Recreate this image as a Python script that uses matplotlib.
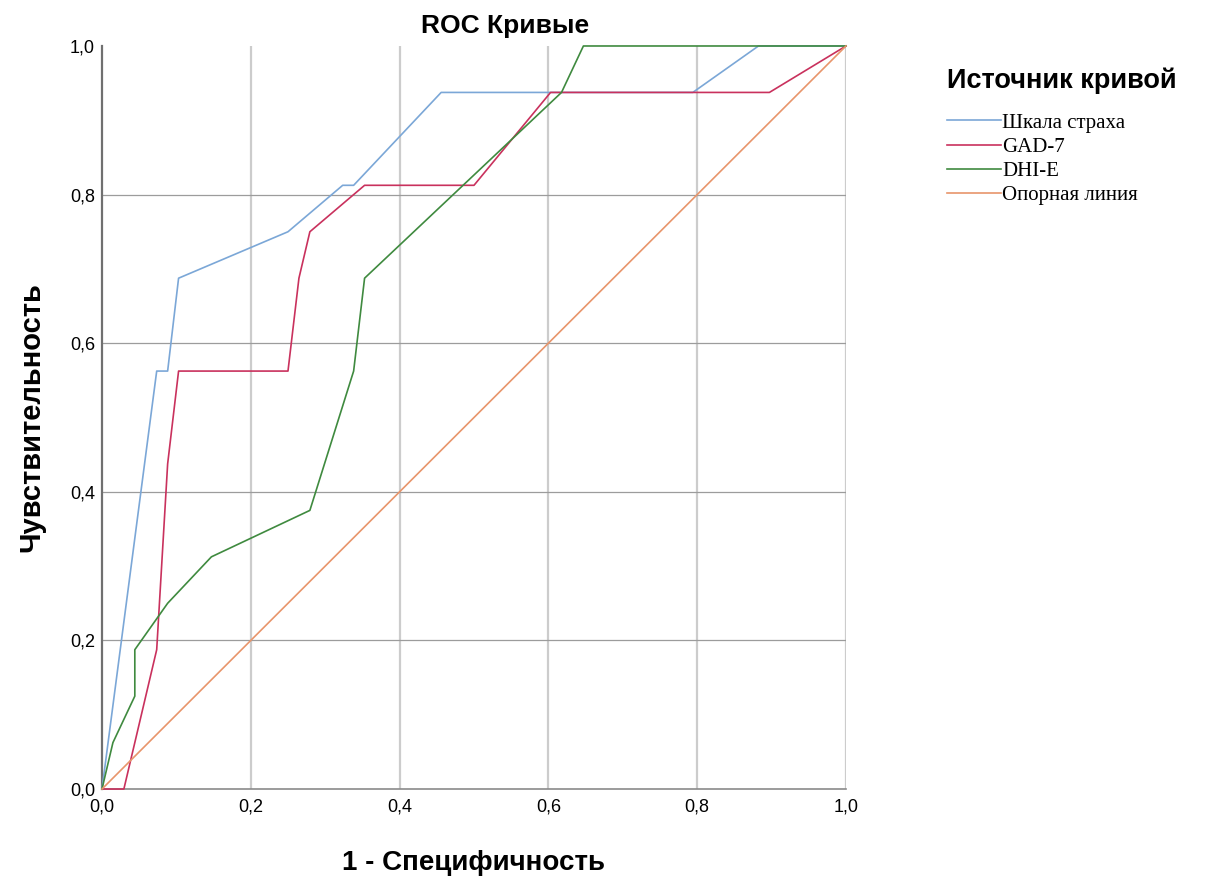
import numpy as np
import matplotlib
matplotlib.use('Agg')
import matplotlib.pyplot as plt

# ROC points: x = 1 - specificity (steps of 1/68), y = sensitivity (steps of 1/16)
fear_x = np.array([0, 5, 6, 7, 17, 22, 23, 31, 54, 60, 68]) / 68
fear_y = np.array([0, 9, 9, 11, 12, 13, 13, 15, 15, 16, 16]) / 16

gad_x = np.array([0, 2, 5, 6, 7, 17, 18, 19, 24, 34, 41, 61, 68]) / 68
gad_y = np.array([0, 0, 3, 7, 9, 9, 11, 12, 13, 13, 15, 15, 16]) / 16

dhi_x = np.array([0, 1, 3, 3, 6, 10, 19, 23, 24, 42, 44, 68]) / 68
dhi_y = np.array([0, 1, 2, 3, 4, 5, 6, 9, 11, 15, 16, 16]) / 16

ref_x = [0, 1]
ref_y = [0, 1]

labels = ['Шкала страха', 'GAD-7', 'DHI-E', 'Опорная линия']
colors = ['#7ba7d7', '#c9315d', '#3f8a3f', '#e8956b']
ticks = [0, 0.2, 0.4, 0.6, 0.8, 1.0]
tick_labels = ['0,0', '0,2', '0,4', '0,6', '0,8', '1,0']

fig = plt.figure(figsize=(12.07, 8.81), dpi=100)
ax = fig.add_axes([0.0845, 0.1044, 0.6164, 0.8434])

# grid: vertical lines light and thick, horizontal ones darker and thin
for t in ticks[1:]:
    ax.axvline(t, color='#cccccc', lw=1.6, zorder=0)
for t in ticks[1:-1]:
    ax.axhline(t, color='#9c9c9c', lw=0.9, zorder=0)

series = [(fear_x, fear_y), (gad_x, gad_y), (dhi_x, dhi_y), (ref_x, ref_y)]
for (xs, ys), lab, col in zip(series, labels, colors):
    ax.plot(xs, ys, color=col, lw=1.2, label=lab, clip_on=False, zorder=3)

ax.set_xlim(0, 1)
ax.set_ylim(0, 1)
ax.set_xticks(ticks)
ax.set_xticklabels(tick_labels, family='Liberation Sans', fontsize=13)
ax.set_yticks(ticks)
ax.set_yticklabels(tick_labels, family='Liberation Sans', fontsize=13)
ax.tick_params(axis='x', length=0, pad=7)
ax.tick_params(axis='y', length=0, pad=5)

for s in ['top', 'right']:
    ax.spines[s].set_visible(False)
ax.spines['left'].set_color('#707070')
ax.spines['left'].set_linewidth(1.6)
ax.spines['bottom'].set_color('#8a8a8a')
ax.spines['bottom'].set_linewidth(1.2)

ax.set_title('ROC Кривые', family='Liberation Sans', fontweight='bold', fontsize=19,
             x=0.542, pad=9)
ax.set_xlabel('1 - Специфичность', family='Liberation Sans', fontweight='bold', fontsize=20, labelpad=25)
ax.set_ylabel('Чувствительность', family='Liberation Sans', fontweight='bold', fontsize=21, labelpad=18)

leg = ax.legend(loc='upper left', bbox_to_anchor=(0.769, 0.945), bbox_transform=fig.transFigure,
                frameon=False, title='Источник кривой', handlelength=2.6, handletextpad=0.05,
                labelspacing=0.22, prop={'family': 'Liberation Serif', 'size': 15},
                title_fontproperties={'family': 'Liberation Sans', 'weight': 'bold', 'size': 19.5})
leg._legend_box.align = 'left'
leg._legend_box.sep = 14

fig.savefig('out.png', dpi=100)
